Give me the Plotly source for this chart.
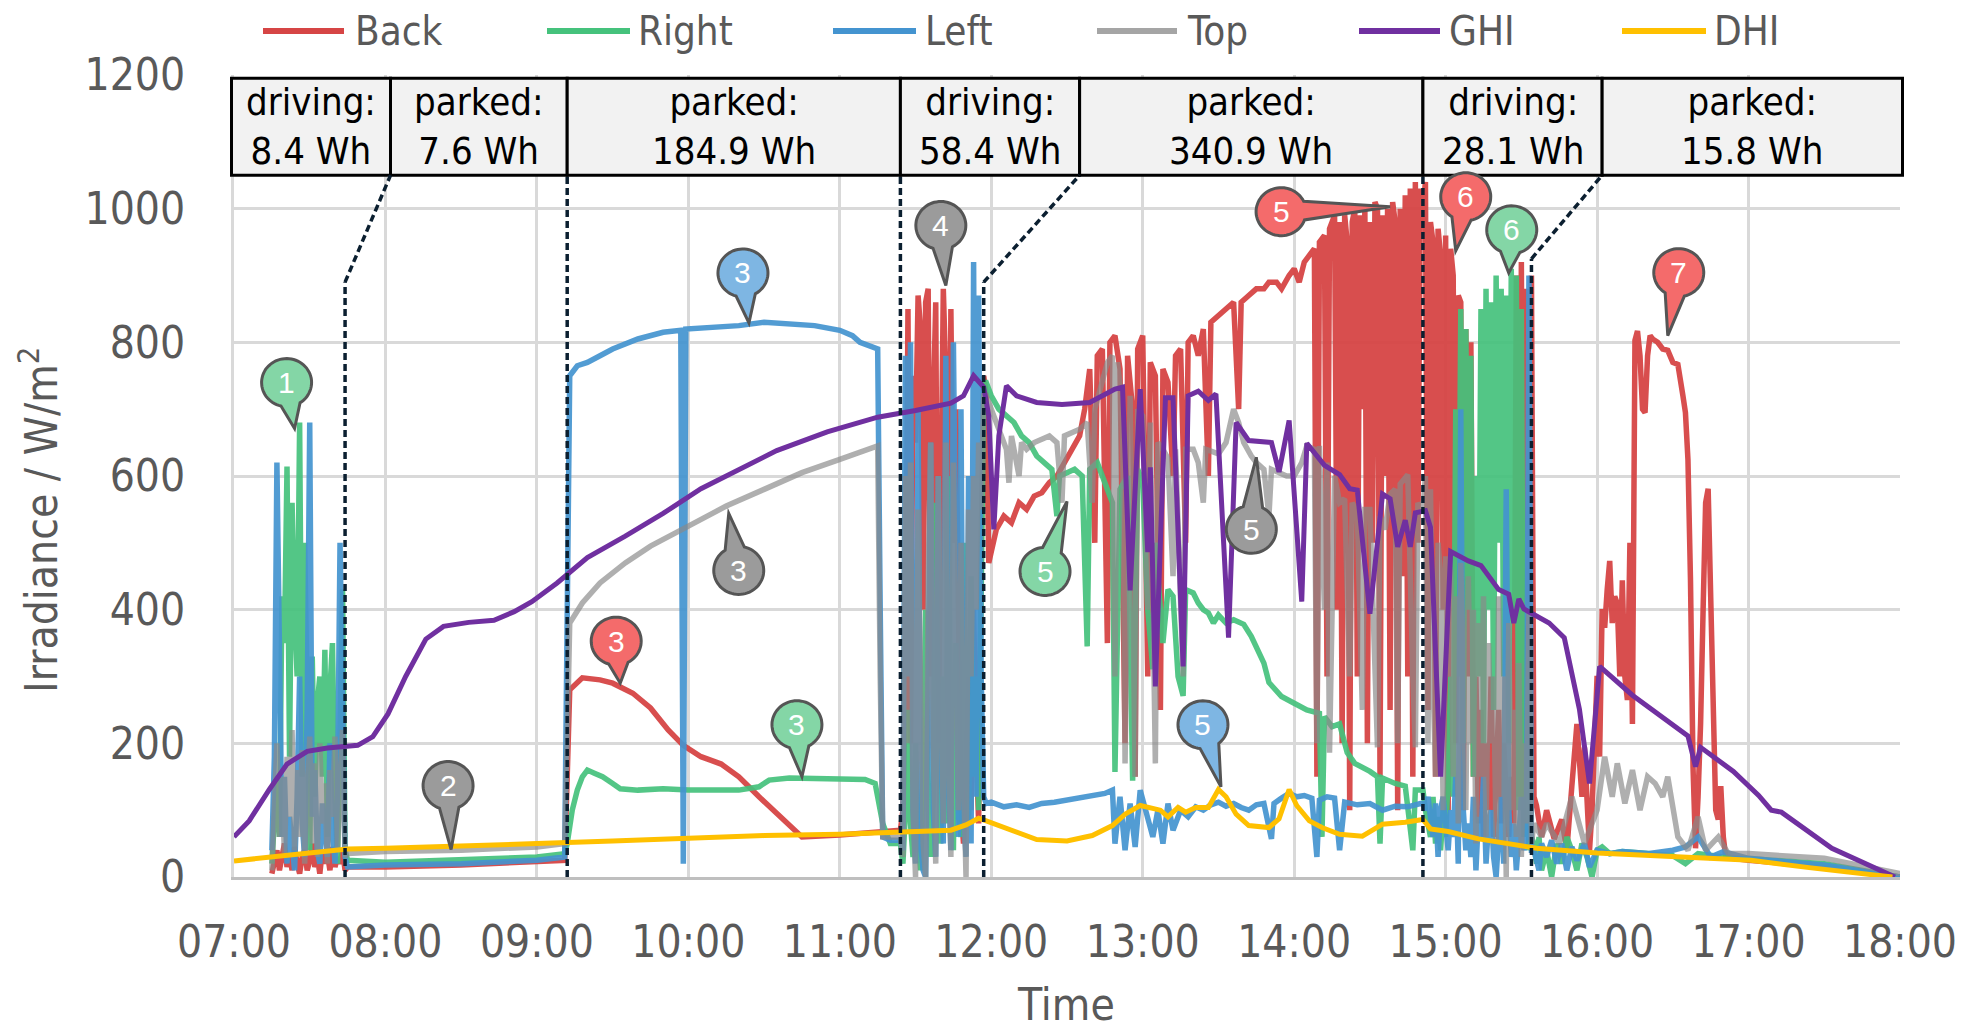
import math
import plotly.graph_objects as go

# ---------------------------------------------------------------- data
SERIES = ["Back", "Right", "Left", "Top", "GHI", "DHI"]
X_TICK_HOURS = [7, 8, 9, 10, 11, 12, 13, 14, 15, 16, 17, 18]
X_TICK_LABELS = ["07:00", "08:00", "09:00", "10:00", "11:00", "12:00",
                 "13:00", "14:00", "15:00", "16:00", "17:00", "18:00"]
Y_TICKS = [0, 200, 400, 600, 800, 1000, 1200]

# one-minute logger samples during the three driving periods
DRIVE_A = ["07:15", "07:16", "07:17", "07:18", "07:19", "07:20", "07:21", "07:22", "07:23", "07:24",
           "07:25", "07:26", "07:27", "07:28", "07:29", "07:30", "07:31", "07:32", "07:33", "07:34",
           "07:35", "07:36", "07:37", "07:38", "07:39", "07:40", "07:41", "07:42", "07:43", "07:44"]
DRIVE_B = ["11:24", "11:25", "11:26", "11:27", "11:28", "11:29", "11:30", "11:31", "11:32", "11:33",
           "11:34", "11:35", "11:36", "11:37", "11:38", "11:39", "11:40", "11:41", "11:42", "11:43",
           "11:44", "11:45", "11:46", "11:47", "11:48", "11:49", "11:50", "11:51", "11:52", "11:53",
           "11:54", "11:55", "11:56", "11:57"]
DRIVE_C = ["14:51", "14:52", "14:53", "14:54", "14:55", "14:56", "14:57", "14:58", "14:59", "15:00",
           "15:01", "15:02", "15:03", "15:04", "15:05", "15:06", "15:07", "15:08", "15:09", "15:10",
           "15:11", "15:12", "15:13", "15:14", "15:15", "15:16", "15:17", "15:18", "15:19", "15:20",
           "15:21", "15:22", "15:23", "15:24", "15:25", "15:26", "15:27", "15:28", "15:29", "15:30",
           "15:31", "15:32", "15:33", "15:34"]

BACK_A = [5, 20, 40, 10, 30, 50, 15, 35, 10, 45, 20, 5, 30, 40, 10, 25, 50, 15, 30, 5,
          40, 20, 35, 10, 45, 15, 30, 20, 40, 10]
RIGHT_A = [20, 90, 150, 60, 420, 350, 614, 180, 560, 400, 300, 680, 150, 500, 310, 40, 330, 120, 260, 300,
           150, 340, 60, 280, 350, 120, 20, 220, 430, 40]
LEFT_A = [40, 180, 620, 380, 60, 150, 20, 90, 40, 10, 120, 300, 80, 30, 250, 680, 90, 160, 40, 20,
          110, 60, 30, 200, 70, 20, 120, 500, 260, 30]
TOP_A = [10, 120, 200, 60, 150, 30, 180, 90, 220, 40, 160, 60, 190, 20, 130, 210, 50, 170, 30, 200,
         80, 140, 20, 160, 90, 210, 40, 150, 220, 30]

BACK_B = [70, 100, 300, 850, 200, 750, 650, 870, 820, 400, 860, 880, 300, 700, 860, 200, 600, 880, 750, 150,
          850, 500, 700, 300, 100, 50, 150, 300, 100, 400, 200, 80, 500, 750]
LEFT_B = [55, 40, 780, 300, 800, 100, 20, 700, 50, 10, 0, 300, 650, 100, 30, 600, 200, 50, 780, 150,
          40, 800, 300, 60, 700, 100, 30, 600, 50, 920, 120, 870, 300, 120]
RIGHT_B = [50, 20, 100, 250, 80, 30, 200, 60, 10, 150, 400, 100, 30, 120, 560, 200, 50, 300, 80, 600,
           150, 40, 350, 100, 60, 500, 200, 80, 450, 150, 300, 100, 400, 740]
TOP_B = [60, 30, 600, 200, 620, 100, 0, 550, 300, 50, 0, 450, 650, 200, 20, 600, 300, 80, 650, 200,
         30, 620, 350, 100, 500, 150, 0, 550, 300, 600, 400, 650, 550, 720]

BACK_C = [1000, 1040, 250, 980, 950, 150, 970, 930, 400, 960, 100, 940, 900, 200, 870, 860, 100, 820, 300, 800,
          150, 300, 80, 250, 60, 200, 100, 300, 60, 150, 250, 80, 200, 120, 60, 150, 80, 900, 120, 920,
          80, 880, 150, 900]
RIGHT_C = [130, 100, 80, 60, 120, 50, 90, 40, 100, 60, 150, 300, 120, 700, 300, 850, 200, 820, 400, 780,
           150, 600, 300, 850, 200, 880, 400, 860, 250, 900, 500, 880, 300, 870, 200, 910, 400, 900, 100, 850,
           60, 300, 40, 60]
LEFT_C = [110, 100, 120, 90, 60, 110, 30, 100, 120, 80, 40, 100, 60, 150, 20, 700, 100, 40, 80, 30,
          120, 10, 90, 60, 150, 20, 80, 100, 30, 0, 60, 120, 20, 580, 100, 30, 80, 10, 60, 120,
          40, 60, 900, 40]
TOP_C = [550, 600, 200, 580, 300, 150, 500, 450, 100, 480, 300, 460, 150, 420, 80, 470, 300, 100, 450, 200,
         400, 50, 380, 150, 420, 60, 350, 200, 300, 50, 420, 120, 300, 0, 380, 100, 250, 60, 320, 30,
         200, 80, 400, 50]

BACK_REST = [
    ("07:45", 15), ("08:00", 15), ("08:30", 18), ("09:00", 22), ("09:11", 25), ("09:12", 150), ("09:13", 280),
    ("09:18", 298), ("09:25", 295), ("09:30", 290), ("09:38", 275), ("09:45", 253), ("09:52", 220), ("09:58", 197),
    ("10:05", 180), ("10:13", 169), ("10:20", 150), ("10:28", 120), ("10:35", 95), ("10:42", 70), ("10:45", 60),
    ("11:00", 63), ("11:15", 68), ("11:23", 70),
    ("11:58", 720), ("11:59", 470), ("12:02", 520), ("12:05", 540), ("12:08", 530), ("12:11", 560), ("12:14", 550),
    ("12:17", 570), ("12:20", 575), ("12:23", 590), ("12:26", 600), ("12:29", 620), ("12:32", 640), ("12:35", 660),
    ("12:37", 700), ("12:39", 760), ("12:41", 500), ("12:42", 780), ("12:44", 790), ("12:46", 350), ("12:47", 800),
    ("12:49", 810), ("12:51", 760), ("12:53", 200), ("12:54", 780), ("12:56", 700), ("12:57", 150), ("12:58", 790),
    ("13:00", 810), ("13:02", 300), ("13:03", 770), ("13:05", 750), ("13:07", 250), ("13:08", 760), ("13:10", 740),
    ("13:12", 600), ("13:13", 780), ("13:15", 790), ("13:17", 500), ("13:18", 800), ("13:20", 810), ("13:22", 780),
    ("13:24", 820), ("13:26", 600), ("13:27", 830), ("13:30", 840), ("13:33", 850), ("13:36", 860), ("13:38", 700),
    ("13:39", 860), ("13:42", 870), ("13:45", 880), ("13:48", 880), ("13:50", 890), ("13:53", 890), ("13:55", 880),
    ("13:58", 900), ("14:00", 910), ("14:02", 890), ("14:04", 920), ("14:06", 930), ("14:08", 940), ("14:09", 150),
    ("14:10", 950), ("14:12", 960), ("14:13", 300), ("14:14", 970), ("14:16", 990), ("14:17", 400), ("14:18", 980),
    ("14:19", 200), ("14:20", 990), ("14:21", 950), ("14:22", 100), ("14:23", 980), ("14:24", 1000), ("14:25", 300),
    ("14:26", 990), ("14:27", 700), ("14:28", 1000), ("14:29", 200), ("14:30", 980), ("14:31", 500), ("14:32", 1010),
    ("14:33", 1000), ("14:34", 150), ("14:35", 990), ("14:36", 600), ("14:37", 1000), ("14:38", 250), ("14:39", 1010),
    ("14:40", 980), ("14:41", 100), ("14:42", 1000), ("14:43", 450), ("14:44", 1020), ("14:45", 300), ("14:46", 1030),
    ("14:47", 150), ("14:48", 1040), ("14:49", 500), ("14:50", 1030),
    ("15:35", 120), ("15:36", 107), ("15:38", 60), ("15:40", 100), ("15:43", 57), ("15:46", 86), ("15:48", 40),
    ("15:50", 136), ("15:52", 229), ("15:54", 120), ("15:55", 194), ("15:57", 40), ("15:58", 100), ("16:00", 301),
    ("16:01", 180), ("16:02", 401), ("16:03", 373), ("16:04", 430), ("16:05", 473), ("16:06", 380), ("16:07", 420),
    ("16:08", 409), ("16:09", 300), ("16:10", 444), ("16:11", 300), ("16:12", 265), ("16:13", 500), ("16:14", 229),
    ("16:15", 803), ("16:16", 817), ("16:17", 780), ("16:18", 700), ("16:19", 695), ("16:20", 780), ("16:21", 810),
    ("16:22", 805), ("16:24", 800), ("16:26", 790), ("16:28", 788), ("16:30", 770), ("16:32", 767), ("16:34", 720),
    ("16:35", 695), ("16:36", 624), ("16:37", 444), ("16:38", 165), ("16:39", 43), ("16:40", 120), ("16:41", 229),
    ("16:42", 400), ("16:43", 560), ("16:44", 581), ("16:45", 400), ("16:46", 229), ("16:47", 100), ("16:48", 86),
    ("16:49", 136), ("16:50", 60), ("16:51", 29), ("17:00", 25), ("17:30", 15), ("18:00", 0)]

RIGHT_REST = [
    ("07:45", 25), ("08:00", 22), ("08:30", 25), ("09:00", 30), ("09:11", 35), ("09:12", 50), ("09:14", 100),
    ("09:16", 130), ("09:18", 150), ("09:20", 160), ("09:23", 155), ("09:26", 150), ("09:30", 140), ("09:33", 132),
    ("09:40", 130), ("09:50", 132), ("10:00", 130), ("10:10", 131), ("10:20", 130), ("10:28", 135), ("10:32", 145),
    ("10:40", 148), ("10:50", 148), ("11:00", 147), ("11:10", 146), ("11:14", 140), ("11:17", 80), ("11:20", 50),
    ("11:23", 50),
    ("11:58", 740), ("12:00", 720), ("12:03", 700), ("12:06", 690), ("12:09", 680), ("12:12", 660), ("12:15", 650),
    ("12:18", 630), ("12:21", 620), ("12:24", 610), ("12:26", 540), ("12:27", 600), ("12:30", 605), ("12:33", 610),
    ("12:36", 600), ("12:38", 345), ("12:39", 610), ("12:42", 620), ("12:45", 590), ("12:48", 560), ("12:49", 157),
    ("12:51", 580), ("12:54", 600), ("12:56", 144), ("12:58", 610), ("13:00", 590), ("13:02", 400), ("13:04", 311),
    ("13:05", 500), ("13:06", 445), ("13:08", 350), ("13:10", 430), ("13:12", 420), ("13:14", 300), ("13:16", 271),
    ("13:17", 430), ("13:20", 425), ("13:22", 410), ("13:24", 400), ("13:26", 395), ("13:28", 380), ("13:30", 392),
    ("13:33", 380), ("13:36", 385), ("13:40", 378), ("13:43", 360), ("13:45", 345), ("13:48", 320), ("13:50", 291),
    ("13:55", 270), ("14:00", 260), ("14:05", 250), ("14:10", 245), ("14:11", 60), ("14:12", 240), ("14:15", 225),
    ("14:18", 229), ("14:21", 186), ("14:24", 170), ("14:27", 165), ("14:30", 158), ("14:33", 150), ("14:34", 50),
    ("14:35", 148), ("14:40", 140), ("14:44", 136), ("14:47", 40), ("14:48", 130), ("14:50", 129),
    ("15:35", 50), ("15:36", 20), ("15:37", 60), ("15:38", 10), ("15:40", 40), ("15:42", 0), ("15:44", 50),
    ("15:46", 20), ("15:48", 60), ("15:50", 40), ("15:52", 10), ("15:54", 50), ("15:56", 30), ("15:58", 0),
    ("16:00", 40), ("16:02", 45), ("16:05", 35), ("16:10", 38), ("16:20", 35), ("16:30", 32), ("16:35", 20),
    ("16:40", 35), ("16:50", 30), ("17:00", 28), ("17:30", 20), ("18:00", 0)]

LEFT_REST = [
    ("07:45", 15), ("08:00", 18), ("08:30", 20), ("09:00", 25), ("09:11", 30), ("09:12", 400), ("09:13", 750),
    ("09:16", 765), ("09:20", 770), ("09:25", 780), ("09:30", 790), ("09:40", 805), ("09:50", 815), ("09:57", 818),
    ("09:58", 20), ("09:59", 820), ("10:10", 822), ("10:20", 825), ("10:30", 830), ("10:40", 828), ("10:50", 825),
    ("11:00", 818), ("11:05", 810), ("11:08", 800), ("11:12", 795), ("11:15", 790), ("11:16", 400), ("11:17", 60),
    ("11:20", 55), ("11:23", 55),
    ("11:58", 110), ("12:00", 112), ("12:05", 105), ("12:10", 108), ("12:15", 104), ("12:20", 110), ("12:25", 112),
    ("12:30", 115), ("12:35", 118), ("12:40", 122), ("12:45", 125), ("12:48", 130), ("12:49", 50), ("12:51", 120),
    ("12:53", 40), ("12:55", 110), ("12:57", 45), ("12:59", 130), ("13:02", 90), ("13:04", 60), ("13:06", 100),
    ("13:08", 50), ("13:10", 110), ("13:12", 70), ("13:15", 100), ("13:18", 90), ("13:21", 105), ("13:24", 100),
    ("13:27", 108), ("13:30", 112), ("13:33", 106), ("13:36", 110), ("13:39", 104), ("13:42", 100), ("13:45", 108),
    ("13:48", 110), ("13:51", 57), ("13:52", 110), ("13:55", 118), ("13:58", 125), ("14:01", 120), ("14:04", 122),
    ("14:07", 118), ("14:09", 30), ("14:10", 115), ("14:13", 120), ("14:16", 118), ("14:18", 40), ("14:20", 112),
    ("14:25", 108), ("14:30", 110), ("14:35", 100), ("14:40", 106), ("14:45", 105), ("14:50", 110),
    ("15:35", 40), ("15:37", 10), ("15:38", 50), ("15:40", 30), ("15:42", 55), ("15:44", 20), ("15:46", 50),
    ("15:48", 10), ("15:50", 45), ("15:52", 25), ("15:55", 50), ("15:57", 15), ("16:00", 40), ("16:05", 35),
    ("16:10", 38), ("16:20", 35), ("16:30", 40), ("16:35", 45), ("16:40", 60), ("16:45", 30), ("16:50", 38),
    ("17:00", 28), ("17:30", 18), ("18:00", 0)]

TOP_REST = [
    ("07:45", 35), ("08:00", 38), ("08:30", 40), ("09:00", 45), ("09:11", 50), ("09:12", 200), ("09:13", 380),
    ("09:18", 410), ("09:25", 440), ("09:35", 470), ("09:45", 495), ("10:00", 525), ("10:15", 555), ("10:30", 580),
    ("10:45", 605), ("11:00", 625), ("11:15", 645), ("11:16", 300), ("11:17", 60), ("11:20", 60), ("11:23", 60),
    ("11:58", 720), ("12:00", 700), ("12:02", 680), ("12:04", 660), ("12:06", 640), ("12:07", 590), ("12:08", 660),
    ("12:10", 620), ("12:11", 600), ("12:12", 650), ("12:14", 640), ("12:17", 650), ("12:20", 655), ("12:23", 660),
    ("12:26", 650), ("12:28", 560), ("12:29", 660), ("12:32", 665), ("12:35", 670), ("12:38", 680), ("12:40", 560),
    ("12:41", 700), ("12:44", 740), ("12:46", 770), ("12:48", 780), ("12:49", 300), ("12:50", 770), ("12:52", 700),
    ("12:53", 170), ("12:55", 720), ("12:57", 150), ("12:58", 700), ("13:00", 690), ("13:02", 400), ("13:03", 680),
    ("13:05", 170), ("13:06", 650), ("13:08", 640), ("13:10", 626), ("13:12", 450), ("13:13", 640), ("13:16", 300),
    ("13:17", 640), ("13:20", 640), ("13:22", 620), ("13:24", 560), ("13:25", 640), ("13:28", 635), ("13:30", 633),
    ("13:33", 650), ("13:36", 700), ("13:38", 680), ("13:40", 650), ("13:43", 630), ("13:45", 620), ("13:48", 610),
    ("13:50", 540), ("13:51", 610), ("13:54", 605), ("13:57", 600), ("14:00", 600), ("14:03", 620), ("14:05", 645),
    ("14:08", 640), ("14:09", 200), ("14:10", 645), ("14:12", 400), ("14:13", 620), ("14:14", 186), ("14:16", 600),
    ("14:18", 560), ("14:20", 566), ("14:22", 300), ("14:23", 560), ("14:25", 545), ("14:27", 250), ("14:28", 550),
    ("14:30", 550), ("14:33", 194), ("14:34", 540), ("14:36", 520), ("14:38", 573), ("14:40", 580), ("14:41", 200),
    ("14:42", 588), ("14:45", 602), ("14:47", 300), ("14:48", 194), ("14:49", 560), ("14:50", 552),
    ("15:35", 80), ("15:38", 60), ("15:40", 80), ("15:45", 50), ("15:50", 120), ("15:55", 50), ("16:00", 100),
    ("16:03", 180), ("16:06", 120), ("16:08", 170), ("16:11", 110), ("16:14", 160), ("16:17", 100), ("16:20", 150),
    ("16:23", 140), ("16:26", 120), ("16:28", 150), ("16:32", 60), ("16:36", 40), ("16:40", 90), ("16:43", 40),
    ("16:48", 60), ("16:52", 35), ("17:00", 35), ("17:30", 28), ("18:00", 5)]

GHI = [
    ("07:00", 60), ("07:06", 84), ("07:14", 131), ("07:21", 169), ("07:29", 188), ("07:37", 193), ("07:49", 197),
    ("07:55", 210), ("08:01", 244), ("08:08", 300), ("08:16", 356), ("08:23", 375), ("08:33", 381), ("08:43", 384),
    ("08:51", 397), ("08:58", 412), ("09:08", 440), ("09:20", 478), ("09:35", 510), ("09:50", 544), ("10:05", 581),
    ("10:20", 609), ("10:35", 638), ("10:55", 666), ("11:15", 688), ("11:30", 698), ("11:44", 709), ("11:49", 720),
    ("11:53", 750), ("11:57", 733), ("11:59", 690), ("12:01", 520), ("12:03", 660), ("12:06", 735), ("12:10", 720),
    ("12:18", 710), ("12:28", 707), ("12:39", 710), ("12:49", 730), ("12:52", 733), ("12:55", 429), ("12:59", 730),
    ("13:02", 486), ("13:03", 613), ("13:05", 285), ("13:09", 717), ("13:12", 717), ("13:16", 315), ("13:18", 720),
    ("13:22", 727), ("13:26", 713), ("13:29", 723), ("13:34", 358), ("13:37", 680), ("13:42", 653), ("13:51", 650),
    ("13:54", 606), ("13:58", 683), ("14:03", 412), ("14:05", 649), ("14:12", 616), ("14:18", 602), ("14:22", 581),
    ("14:25", 579), ("14:30", 394), ("14:35", 573), ("14:38", 566), ("14:41", 494), ("14:44", 534), ("14:46", 494),
    ("14:48", 545), ("14:52", 548), ("14:54", 523), ("14:58", 150), ("15:02", 487), ("15:09", 473), ("15:14", 466),
    ("15:21", 430), ("15:25", 423), ("15:27", 380), ("15:29", 416), ("15:31", 401), ("15:36", 391), ("15:41", 380),
    ("15:47", 358), ("15:53", 251), ("15:57", 140), ("16:01", 315), ("16:14", 272), ("16:27", 237), ("16:36", 211),
    ("16:39", 165), ("16:41", 194), ("16:54", 158), ("17:04", 122), ("17:09", 100), ("17:13", 97), ("17:33", 43),
    ("17:58", 0)]

DHI = [
    ("07:00", 24), ("07:15", 30), ("07:30", 37), ("07:45", 42), ("08:00", 43), ("08:30", 46), ("09:00", 50),
    ("09:30", 54), ("10:00", 58), ("10:30", 62), ("11:00", 64), ("11:20", 66), ("11:35", 68), ("11:44", 70),
    ("11:50", 78), ("11:55", 88), ("11:58", 84), ("12:02", 78), ("12:10", 66), ("12:18", 56), ("12:30", 54),
    ("12:40", 62), ("12:48", 77), ("12:53", 94), ("12:59", 107), ("13:03", 104), ("13:07", 100), ("13:10", 90),
    ("13:14", 104), ("13:17", 97), ("13:21", 104), ("13:26", 104), ("13:30", 131), ("13:33", 120), ("13:37", 94),
    ("13:42", 77), ("13:50", 74), ("13:54", 87), ("13:58", 131), ("14:01", 107), ("14:06", 84), ("14:11", 74),
    ("14:18", 64), ("14:27", 61), ("14:35", 79), ("14:44", 82), ("14:51", 86), ("14:54", 72), ("15:01", 68),
    ("15:13", 57), ("15:26", 50), ("15:36", 43), ("16:00", 36), ("16:34", 30), ("17:01", 25), ("17:24", 14),
    ("17:57", 0)]

# operating periods (box at the top) and the energy harvested in each
PERIOD_EDGES = ["07:00", "08:02", "09:12", "11:24", "12:35", "14:51", "16:02", "18:00"]
PERIOD_LABELS = ["driving:<br>8.4 Wh", "parked:<br>7.6 Wh", "parked:<br>184.9 Wh", "driving:<br>58.4 Wh",
                 "parked:<br>340.9 Wh", "driving:<br>28.1 Wh", "parked:<br>15.8 Wh"]
# (time of the driving/parked switch, box edge it belongs to, height where the line bends)
SWITCHES = [("07:44", "08:02", 890), ("09:12", "09:12", 1050), ("11:24", "11:24", 1050),
            ("11:57", "12:35", 890), ("14:51", "14:51", 1050), ("15:34", "16:02", 925)]

# numbered call-outs: (label, series, time, value, centre dx px, centre dy px)
CALLOUTS = [("1", "Right", "07:24", 671, -8, -46), ("2", "Top", "08:26", 41, -3, -64),
            ("3", "Back", "09:33", 290, -4, -42), ("3", "Left", "10:24", 829, -6, -50),
            ("3", "Top", "10:16", 544, 10, 57), ("3", "Right", "10:45", 150, -5, -52),
            ("4", "Top", "11:42", 885, -5, -60), ("5", "Back", "14:38", 1003, -109, 5),
            ("5", "Right", "12:30", 562, -22, 70), ("5", "Top", "13:45", 628, -5, 72),
            ("5", "Left", "13:31", 135, -18, -62), ("6", "Back", "15:04", 937, 10, -54),
            ("6", "Right", "15:25", 904, 3, -43), ("7", "Back", "16:28", 810, 11, -63)]

# ---------------------------------------------------------------- style
COLORS = {"Back": "#D64545", "Right": "#45C27C", "Left": "#4494D0", "Top": "#8A8A8A",
          "GHI": "#7030A0", "DHI": "#FFC000"}
LEGEND_COLORS = {"Back": "#D64545", "Right": "#45C27C", "Left": "#4494D0", "Top": "#A5A5A5",
                 "GHI": "#7030A0", "DHI": "#FFC000"}
BUBBLE_FILL = {"Back": "#F46B6B", "Right": "#84D6A6", "Left": "#7EB6E3", "Top": "#9B9B9B"}
FONT = "DejaVu Sans Condensed, Liberation Sans Narrow, Arial Narrow, sans-serif"
GREY_TXT = "#595959"

W, H = 1964, 1034
PL, PR, PT, PB = 234, 1900, 75, 877      # plot area in pixels
X0, X1, Y1 = 7.0, 18.0, 1200.0


def hrs(s):
    h, m = s.split(":")
    return int(h) + int(m) / 60.0


def assemble(rest, segments):
    pts = list(rest)
    for times, vals in segments:
        assert len(times) == len(vals)
        pts += list(zip(times, vals))
    pts.sort(key=lambda p: hrs(p[0]))
    return [hrs(t) for t, _ in pts], [v for _, v in pts]


def px2paper_x(px):
    return (px - PL) / (PR - PL)


def px2paper_y(py):
    return (PB - py) / (PB - PT)


def d2paper_x(h):
    return (h - X0) / (X1 - X0)


def d2paper_y(v):
    return v / Y1


data = {
    "Back": assemble(BACK_REST, [(DRIVE_A, BACK_A), (DRIVE_B, BACK_B), (DRIVE_C, BACK_C)]),
    "Right": assemble(RIGHT_REST, [(DRIVE_A, RIGHT_A), (DRIVE_B, RIGHT_B), (DRIVE_C, RIGHT_C)]),
    "Left": assemble(LEFT_REST, [(DRIVE_A, LEFT_A), (DRIVE_B, LEFT_B), (DRIVE_C, LEFT_C)]),
    "Top": assemble(TOP_REST, [(DRIVE_A, TOP_A), (DRIVE_B, TOP_B), (DRIVE_C, TOP_C)]),
    "GHI": assemble(GHI, []),
    "DHI": assemble(DHI, []),
}
OPACITY = {"Back": 0.95, "Right": 0.92, "Left": 0.92, "Top": 0.68, "GHI": 1.0, "DHI": 1.0}
WIDTH = {"Back": 5.5, "Right": 5.5, "Left": 5.5, "Top": 5.5, "GHI": 5, "DHI": 5}

fig = go.Figure()
for name in SERIES:
    x, y = data[name]
    fig.add_trace(go.Scatter(x=x, y=y, mode="lines", name=name, showlegend=False,
                             line=dict(color=COLORS[name], width=WIDTH[name]),
                             opacity=OPACITY[name], hoverinfo="skip"))

shapes = []
annotations = []

# ---- period box
BOX_LO, BOX_HI = 1050, 1195
for i, lab in enumerate(PERIOD_LABELS):
    xa = d2paper_x(hrs(PERIOD_EDGES[i]))
    xb = d2paper_x(hrs(PERIOD_EDGES[i + 1]))
    if i == 0:
        xa -= 0.0015
    if i == len(PERIOD_LABELS) - 1:
        xb += 0.0015
    shapes.append(dict(type="rect", xref="paper", yref="paper", x0=xa, x1=xb,
                       y0=d2paper_y(BOX_LO), y1=d2paper_y(BOX_HI),
                       fillcolor="#F2F2F2", line=dict(color="black", width=3), layer="above"))
    annotations.append(dict(xref="paper", yref="paper", x=(xa + xb) / 2,
                            y=d2paper_y((BOX_LO + BOX_HI) / 2), text=lab, showarrow=False,
                            align="center", xanchor="center", yanchor="middle",
                            font=dict(family=FONT, size=38, color="black")))

# ---- dashed switch lines
for t_sw, t_edge, knee in SWITCHES:
    xs = d2paper_x(hrs(t_sw))
    xe = d2paper_x(hrs(t_edge))
    dash = dict(color="#0B1F30", width=3.5, dash="7px,4px")
    shapes.append(dict(type="line", xref="paper", yref="paper", x0=xs, x1=xs,
                       y0=0, y1=d2paper_y(knee), line=dash, layer="above"))
    if t_sw != t_edge:
        shapes.append(dict(type="line", xref="paper", yref="paper", x0=xs, x1=xe,
                           y0=d2paper_y(knee), y1=d2paper_y(BOX_LO), line=dash, layer="above"))


# ---- call-out bubbles
def bubble_path(dx, dy, rx=25, ry=24, spread=0.40, n=60):
    cx, cy = dx, -dy                      # pixel offsets, y up
    ang = math.atan2(-cy, -cx)            # direction from centre to the tip
    pts = []
    for i in range(n + 1):
        a = ang + spread + (2 * math.pi - 2 * spread) * i / n
        pts.append((cx + rx * math.cos(a), cy + ry * math.sin(a)))
    return "M0,0 " + " ".join("L%.1f,%.1f" % p for p in pts) + " Z"


for lab, ser, t, v, dx, dy in CALLOUTS:
    shapes.append(dict(type="path", xref="x", yref="y", xsizemode="pixel", ysizemode="pixel",
                       xanchor=hrs(t), yanchor=v, path=bubble_path(dx, dy),
                       fillcolor=BUBBLE_FILL[ser], line=dict(color="#555555", width=3),
                       layer="above"))
    annotations.append(dict(xref="x", yref="y", x=hrs(t), y=v, xshift=dx, yshift=-dy,
                            text=lab, showarrow=False, xanchor="center", yanchor="middle",
                            font=dict(family="Liberation Sans, Arial, sans-serif", size=30,
                                      color="white")))

# ---- legend (drawn by hand to match the long line samples)
LEGEND_PX = {"Back": (263, 344, 353), "Right": (547, 630, 636), "Left": (833, 916, 923),
             "Top": (1097, 1177, 1185), "GHI": (1359, 1440, 1447), "DHI": (1622, 1706, 1712)}
ly = px2paper_y(31)
for name in SERIES:
    a, b, tx = LEGEND_PX[name]
    shapes.append(dict(type="line", xref="paper", yref="paper", x0=px2paper_x(a), x1=px2paper_x(b),
                       y0=ly, y1=ly, line=dict(color=LEGEND_COLORS[name], width=6), layer="above"))
    annotations.append(dict(xref="paper", yref="paper", x=px2paper_x(tx), y=ly, text=name,
                            showarrow=False, xanchor="left", yanchor="middle",
                            font=dict(family=FONT, size=40, color=GREY_TXT)))

# ---- axis titles
annotations.append(dict(xref="paper", yref="paper", x=px2paper_x(1066), y=px2paper_y(1032),
                        text="Time", showarrow=False, xanchor="center", yanchor="bottom",
                        font=dict(family=FONT, size=44, color=GREY_TXT)))
annotations.append(dict(xref="paper", yref="paper", x=px2paper_x(38), y=px2paper_y(520),
                        text="Irradiance / W/m<sup>2</sup>", showarrow=False, textangle=-90,
                        xanchor="center", yanchor="middle",
                        font=dict(family=FONT, size=44, color=GREY_TXT)))

fig.update_layout(
    width=W, height=H,
    margin=dict(l=PL, r=W - PR, t=PT, b=H - PB, pad=0, autoexpand=False),
    paper_bgcolor="white", plot_bgcolor="white", showlegend=False,
    shapes=shapes, annotations=annotations,
    xaxis=dict(range=[X0, X1], tickmode="array", tickvals=X_TICK_HOURS, ticktext=X_TICK_LABELS,
               showgrid=True, gridcolor="#D9D9D9", gridwidth=3, zeroline=False,
               showline=True, linecolor="#BFBFBF", linewidth=3, ticks="",
               tickfont=dict(family=FONT, size=44, color=GREY_TXT), ticklabelstandoff=24,
               automargin=False, fixedrange=True),
    yaxis=dict(range=[0, Y1], tickmode="array", tickvals=Y_TICKS,
               showgrid=True, gridcolor="#D9D9D9", gridwidth=3, zeroline=False,
               showline=True, linecolor="#D9D9D9", linewidth=3, ticks="",
               tickfont=dict(family=FONT, size=44, color=GREY_TXT), ticklabelstandoff=37,
               automargin=False, fixedrange=True),
)

fig.write_html("out.html")
